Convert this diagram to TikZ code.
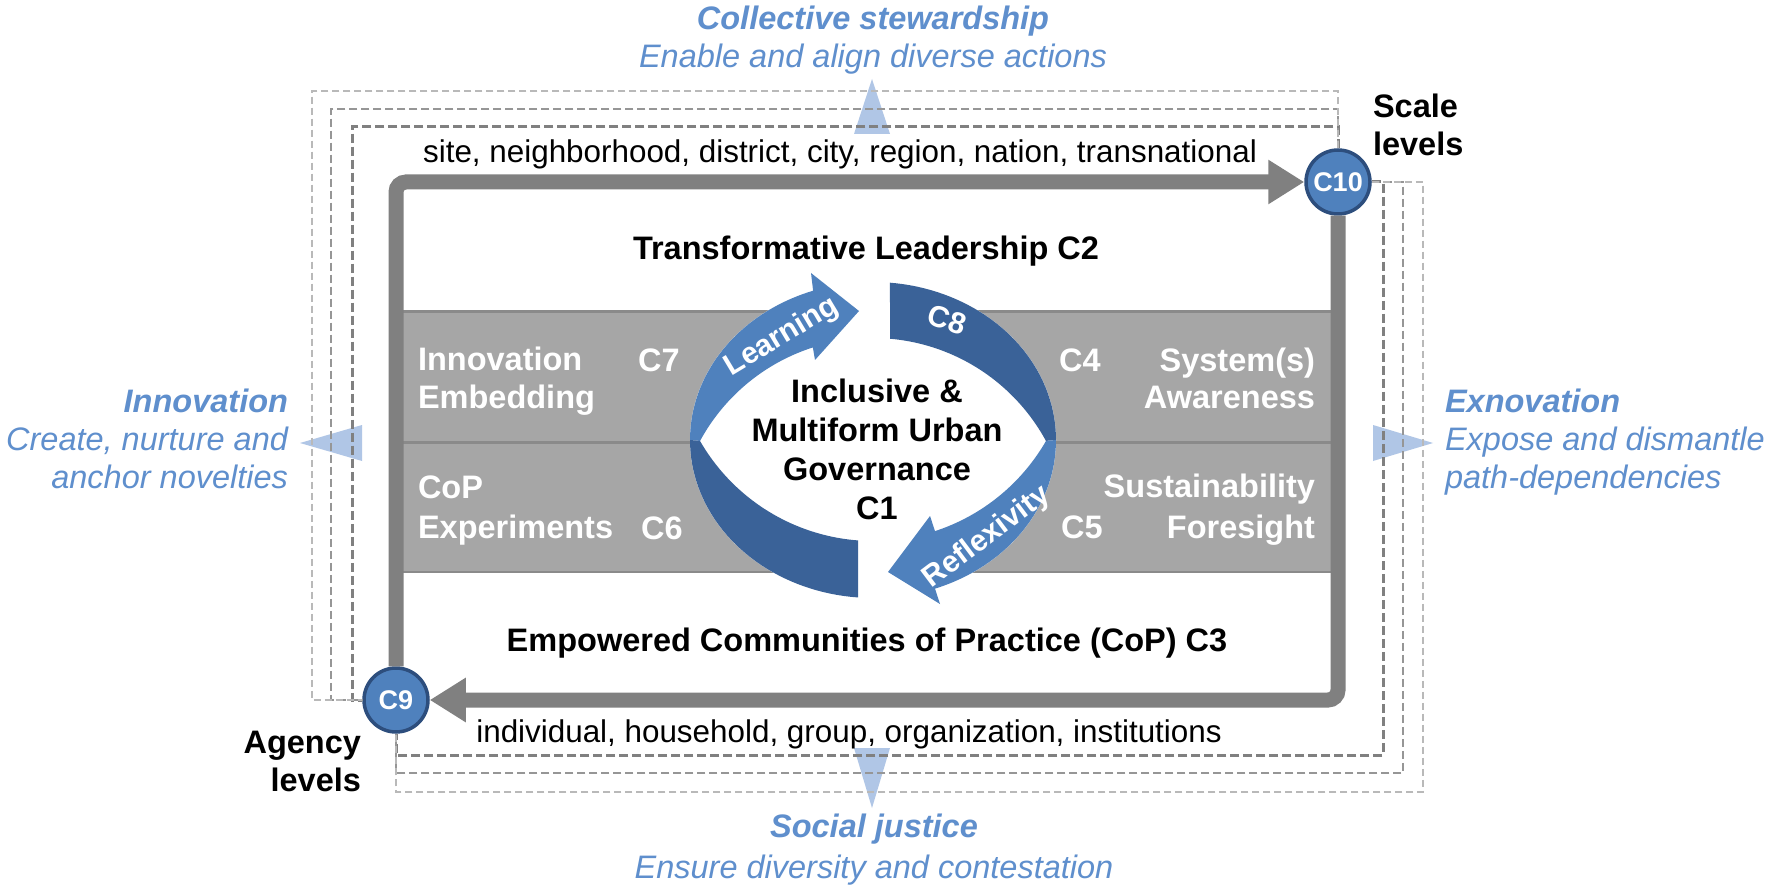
\documentclass[tikz,border=0pt]{standalone}
\usepackage{fontspec}
\setmainfont{Liberation Sans}
\usetikzlibrary{arrows.meta}
\definecolor{framegray}{RGB}{128,128,128}
\definecolor{bandgray}{RGB}{166,166,166}
\definecolor{bandline}{RGB}{138,138,138}
\definecolor{ringlight}{RGB}{79,129,189}
\definecolor{ringdark}{RGB}{58,98,152}
\definecolor{circfill}{RGB}{79,129,189}
\definecolor{circline}{RGB}{45,78,125}
\definecolor{tricol}{RGB}{176,198,230}
\definecolor{bluetext}{RGB}{95,143,205}
\definecolor{dashA}{RGB}{128,128,128}
\definecolor{dashB}{RGB}{150,150,150}
\definecolor{dashC}{RGB}{185,185,185}
\tikzset{
  tb/.style={inner sep=0pt, outer sep=0pt},
  reg/.style={tb, font=\fontsize{31.4}{38}\selectfont},
  bld/.style={tb, font=\fontsize{32.5}{38}\selectfont\bfseries},
  wbld/.style={bld, text=white},
  bsub/.style={tb, text=bluetext, font=\fontsize{32.5}{38}\selectfont\itshape},
  rtxt/.style={tb, text=white, font=\fontsize{30}{34}\selectfont\bfseries},
  cnode/.style={circle, fill=circfill, draw=circline, line width=3.5pt, minimum size=64pt, inner sep=0pt, text=white, font=\fontsize{27}{30}\selectfont\bfseries},
  frameline/.style={draw=framegray, line width=15pt, rounded corners=10pt, -{Triangle[length=36pt,width=42pt]}},
  dA/.style={draw=dashA, line width=3pt, dash pattern=on 9pt off 4pt},
  dB/.style={draw=dashB, line width=2.5pt, dash pattern=on 8pt off 4pt},
  dC/.style={draw=dashC, line width=2pt, dash pattern=on 7pt off 4pt},
  tri/.style={fill=tricol}
}
\begin{document}
\begin{tikzpicture}[x=1pt,y=-1pt]
\useasboundingbox (0,0) rectangle (1772,890);
\fill[white] (0,0) rectangle (1772,890);

% circles (nodes)
\node[cnode] (c10) at (1338,182) {C10};
\node[cnode] (c9) at (396,700) {C9};

% triangles
\fill[tri] (872,79) -- (890,134) -- (854,134) -- cycle;
\fill[tri] (300,443) -- (362,425) -- (362,461) -- cycle;
\fill[tri] (1433,443) -- (1373,425) -- (1373,461) -- cycle;
\fill[tri] (872,808) -- (890,748) -- (854,748) -- cycle;

% dashed feedback lines
\draw[dA] (c10.north) |- (352,127) |- (c9.west);
\draw[dB] (c10.north) |- (331,109) |- (c9.west);
\draw[dC] (c10.north) |- (312,91) |- (c9.west);
\draw[dA] (c10.east) -| (1383,755) -| (c9.south);
\draw[dB] (c10.east) -| (1403,773) -| (c9.south);
\draw[dC] (c10.east) -| (1423,792) -| (c9.south);

% bands
\fill[bandgray] (396,311) rectangle (1338,573);
\draw[bandline, line width=3pt] (396,312) -- (1338,312);
\draw[bandline, line width=3pt] (396,442) -- (1338,442);
\draw[bandline, line width=2pt] (396,572) -- (1338,572);

% frame arrows
\draw[frameline] (c9.north) |- (c10.west);
\draw[frameline] (c10.south) |- (c9.east);

% central ring
\fill[white] (873,440) ellipse [x radius=183pt, y radius=158pt];
% Learning (light, upper left)
\fill[ringlight] plot[domain=250.9:180, samples=40, variable=\t] ({873+183*cos(\t)},{440+158*sin(\t)})
  -- plot[domain=208.5:252.2, samples=40, variable=\t] ({873+196.8*cos(\t)},{534.8+196.8*sin(\t)})
  -- (815,360) -- (859,311) -- (811,273) -- cycle;
% lower left (dark)
\fill[ringdark] plot[domain=180:94.7, samples=40, variable=\t] ({873+183*cos(\t)},{440+158*sin(\t)})
  -- plot[domain=94.3:150.1, samples=40, variable=\t] ({873+199.6*cos(\t)},{341.4+199.6*sin(\t)})
  -- cycle;
% C8 (dark, upper right)
\fill[ringdark] plot[domain=275.3:360, samples=40, variable=\t] ({873+183*cos(\t)},{440+158*sin(\t)})
  -- plot[domain=331.5:275, samples=40, variable=\t] ({873+196.8*cos(\t)},{534.8+196.8*sin(\t)})
  -- cycle;
% Reflexivity (light, lower right)
\fill[ringlight] plot[domain=0:70.2, samples=40, variable=\t] ({873+183*cos(\t)},{440+158*sin(\t)})
  -- (940,604) -- (888,572) -- (930,516)
  -- plot[domain=71.9:29.9, samples=40, variable=\t] ({873+199.6*cos(\t)},{341.4+199.6*sin(\t)})
  -- cycle;

\node[rtxt, rotate=31] (learn) at (782,337) {Learning};
\node[rtxt, rotate=37] (reflex) at (987,537) {Reflexivity};
\node[rtxt, rotate=-18] (c8) at (947,320) {C8};

% central text (anchor base = baseline of last line)
\node[tb, font=\fontsize{32.5}{39}\selectfont\bfseries, align=center, anchor=base] (gov) at (877,519)
  {Inclusive \&\\Multiform Urban\\Governance\\C1};

% band texts
\node[wbld, align=left, anchor=base west] (inn) at (418,408) {Innovation\\Embedding};
\node[wbld, anchor=base] (c7) at (659,372) {C7};
\node[wbld, align=left, anchor=base west, font=\fontsize{32.5}{40}\selectfont\bfseries] (cop) at (418,538) {CoP\\Experiments};
\node[wbld, anchor=base] (c6) at (662,539) {C6};
\node[wbld, align=right, anchor=base east] (sys) at (1315,409) {System(s)\\Awareness};
\node[wbld, anchor=base] (c4) at (1080,371) {C4};
\node[wbld, align=right, anchor=base east, font=\fontsize{32.5}{41}\selectfont\bfseries] (sus) at (1315,538) {Sustainability\\Foresight};
\node[wbld, anchor=base] (c5) at (1082,538) {C5};

% black texts
\node[bld, anchor=base] (lead) at (866,260) {Transformative Leadership C2};
\node[bld, anchor=base] (emp) at (867,651) {Empowered Communities of Practice (CoP) C3};
\node[reg, anchor=base] (site) at (840,163) {site, neighborhood, district, city, region, nation, transnational};
\node[reg, anchor=base] (indiv) at (849,742) {individual, household, group, organization, institutions};
\node[bld, align=left, anchor=base west] (scale) at (1373,156) {Scale\\levels};
\node[bld, align=right, anchor=base east] (agency) at (361,791) {Agency\\levels};

% blue texts
\node[bsub, align=center, anchor=base] (coll) at (873,68) {\textbf{Collective stewardship}\\Enable and align diverse actions};
\node[bsub, align=center, anchor=base, font=\fontsize{32.5}{41}\selectfont\itshape] (soc) at (874,878) {\textbf{Social justice}\\Ensure diversity and contestation};
\node[bsub, align=right, anchor=base east] (innov) at (288,488) {\textbf{Innovation}\\Create, nurture and\\anchor novelties};
\node[bsub, align=left, anchor=base west] (exn) at (1445,488) {\textbf{Exnovation}\\Expose and dismantle\\path-dependencies};
\end{tikzpicture}
\end{document}
